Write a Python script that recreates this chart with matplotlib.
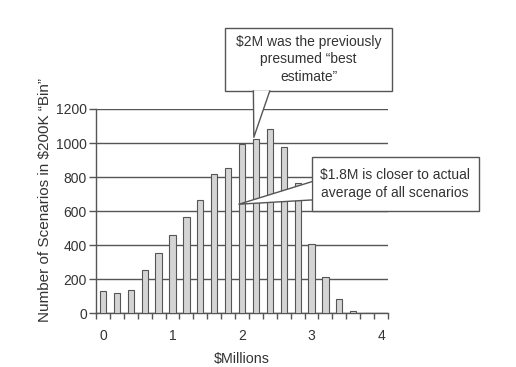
import numpy as np
import matplotlib.pyplot as plt
from matplotlib.patches import Rectangle, Polygon

plt.rcParams['font.family'] = ['Liberation Sans', 'DejaVu Sans']

# histogram of scenarios, $200K bins
bin_centers = [0.0, 0.2, 0.4, 0.6, 0.8, 1.0, 1.2, 1.4, 1.6, 1.8,
               2.0, 2.2, 2.4, 2.6, 2.8, 3.0, 3.2, 3.4, 3.6, 3.8]
counts = [130, 117, 140, 252, 352, 463, 567, 668, 821, 852,
          997, 1026, 1085, 975, 763, 410, 211, 82, 15, 0]
x_ticks = [0, 1, 2, 3, 4]
y_ticks = [0, 200, 400, 600, 800, 1000, 1200]

txt = '#333333'
line = '#555555'
xmin, xmax = -0.1, 4.1
ymin, ymax = 0, 1200

fig = plt.figure(figsize=(5.16, 3.67), dpi=100)
ax = fig.add_axes([0.186, 0.146, 0.566, 0.557])

ax.bar(bin_centers, counts, width=0.09, color='#d4d4d4',
       edgecolor='#555555', linewidth=0.8, zorder=3)

ax.set_xlim(xmin, xmax)
ax.set_ylim(ymin, ymax)
ax.set_yticks(y_ticks)
ax.set_xticks(x_ticks)
ax.set_xticks(np.arange(-0.1, 4.15, 0.2), minor=True)
ax.tick_params(axis='x', which='major', length=0, pad=11, labelsize=10, labelcolor=txt)
ax.tick_params(axis='x', which='minor', length=4, color=line, width=1)
ax.tick_params(axis='y', length=5, color=line, width=1, labelsize=10, labelcolor=txt, pad=1.5)
ax.yaxis.grid(True, color=line, linewidth=1, zorder=0)
ax.set_axisbelow(True)
for s in ['top', 'right']:
    ax.spines[s].set_visible(False)
for s in ['left', 'bottom']:
    ax.spines[s].set_color(line)
    ax.spines[s].set_linewidth(1)

ax.set_xlabel('$Millions', fontsize=10.3, color=txt, labelpad=7)
ax.set_ylabel('Number of Scenarios in $200K \u201cBin\u201d', fontsize=11, color=txt)
ax.yaxis.set_label_coords(-0.151, 0.557)


def to_axes(x, y):
    return ((x - xmin) / (xmax - xmin), (y - ymin) / (ymax - ymin))


def callout(x0, y0, x1, y1, text, base_a, base_b, tip):
    # box in axes fraction, wedge from box edge to a data point
    ax.add_patch(Rectangle((x0, y0), x1 - x0, y1 - y0, transform=ax.transAxes,
                           fc='white', ec=line, lw=1, zorder=5, clip_on=False))
    ax.text((x0 + x1) / 2, (y0 + y1) / 2, text, transform=ax.transAxes,
            ha='center', va='center', fontsize=10, color=txt,
            linespacing=1.3, zorder=8)
    t = to_axes(*tip)
    ax.add_patch(Polygon([base_a, t, base_b], closed=True, transform=ax.transAxes,
                         fc='white', ec='none', lw=0, zorder=6, clip_on=False))
    ax.plot([base_a[0], t[0], base_b[0]], [base_a[1], t[1], base_b[1]],
            color=line, lw=1, transform=ax.transAxes, zorder=7, clip_on=False)


callout(0.442, 1.088, 1.014, 1.397,
        '$2M was the previously\npresumed \u201cbest\nestimate\u201d',
        (0.539, 1.088), (0.595, 1.088), (2.17, 1034))
callout(0.738, 0.501, 1.310, 0.765,
        '$1.8M is closer to actual\naverage of all scenarios',
        (0.738, 0.644), (0.738, 0.555), (1.955, 641))

plt.savefig('out.png', dpi=100)
